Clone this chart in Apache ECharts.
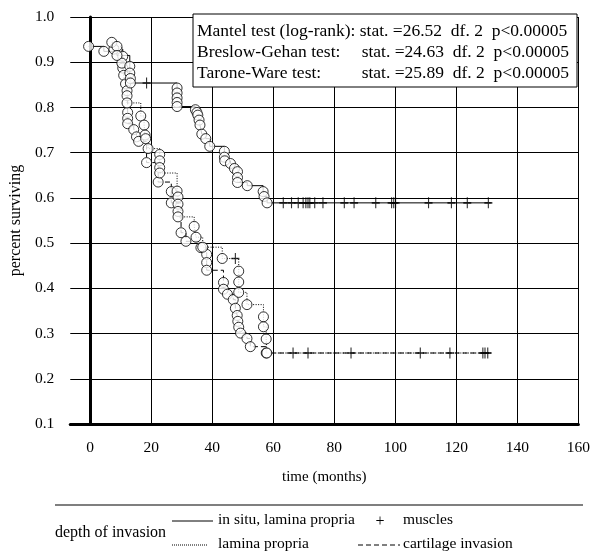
<!DOCTYPE html>
<html>
<head>
<meta charset="utf-8">
<script src="https://cdn.jsdelivr.net/npm/echarts@6/dist/echarts.min.js"></script>
<style>
  html, body { margin: 0; padding: 0; background: #fff; }
  #chart { width: 593px; height: 555px; }
</style>
</head>
<body>
<div id="chart"></div>
<script>
// x ticks (months)
const xTicks = [0, 20, 40, 60, 80, 100, 120, 140, 160]

// in situ, lamina propria (solid)
const timesA = [-0.5, 4.5, 8.8, 13.0, 13.0, 13.2, 13.2, 28.5, 28.5, 28.5, 28.5, 28.5, 34.5, 35.0, 35.3, 35.7, 36.0, 36.6, 37.9, 39.2, 44.0, 44.0, 44.1, 46.0, 47.3, 48.3, 48.3, 48.3, 51.5, 56.7, 57.0, 58.0]
const survA = [0.935, 0.924, 0.915, 0.891, 0.876, 0.864, 0.854, 0.843, 0.832, 0.821, 0.811, 0.802, 0.795, 0.789, 0.783, 0.772, 0.761, 0.741, 0.731, 0.714, 0.703, 0.690, 0.682, 0.676, 0.665, 0.658, 0.645, 0.634, 0.627, 0.614, 0.603, 0.589]
const censorA = [18.5, 63.3, 66.0, 68.2, 69.8, 70.7, 71.4, 72.0, 73.6, 76.3, 83.3, 86.5, 93.6, 98.8, 99.5, 100.1, 110.9, 118.4, 123.6, 130.5]
const endA = 131.3

// lamina propria (dotted)
const timesB = [7.1, 8.8, 10.4, 11.0, 11.6, 12.1, 12.1, 12.1, 16.6, 17.7, 18.0, 18.2, 19.0, 22.8, 22.8, 22.8, 22.8, 28.5, 28.8, 28.8, 28.8, 28.8, 34.1, 34.7, 36.9, 43.3, 48.7, 48.7, 48.7, 51.4, 56.8, 56.8, 57.7, 57.9]
const survB = [0.944, 0.935, 0.898, 0.871, 0.852, 0.837, 0.826, 0.810, 0.781, 0.761, 0.739, 0.731, 0.709, 0.696, 0.682, 0.667, 0.655, 0.615, 0.602, 0.586, 0.570, 0.558, 0.537, 0.513, 0.491, 0.466, 0.438, 0.414, 0.391, 0.364, 0.337, 0.315, 0.288, 0.257]
const censorB = [47.6, 66.5, 85.5, 117.9, 129.4]
const endB = 131.3

// cartilage invasion (dashed)
const timesC = [7.8, 10.7, 10.7, 12.3, 12.3, 12.3, 14.3, 15.2, 15.9, 18.5, 22.3, 26.6, 26.6, 29.8, 31.4, 36.3, 38.2, 38.2, 38.2, 43.7, 43.7, 45.0, 46.9, 47.6, 48.2, 48.4, 48.7, 49.3, 51.4, 52.5, 57.7]
const survC = [0.929, 0.913, 0.887, 0.789, 0.776, 0.764, 0.751, 0.735, 0.725, 0.678, 0.635, 0.614, 0.589, 0.523, 0.504, 0.490, 0.475, 0.457, 0.440, 0.413, 0.398, 0.387, 0.375, 0.356, 0.340, 0.327, 0.314, 0.301, 0.289, 0.271, 0.257]
const censorC = [71.4, 108.2, 128.7, 130.3]
const endC = 131.3

const statLabels = ['Mantel test (log-rank):', 'Breslow-Gehan test:', 'Tarone-Ware test:']
const statValues = ['26.52', '24.63', '25.89']
const statDf = ['2', '2', '2']
const statP = ['p<0.00005', 'p<0.00005', 'p<0.00005']

const FONT = 'Liberation Serif'
const PLUS = 'path://M4.3,0H5.7V10H4.3Z M0,4.3H10V5.7H0Z'

// survival level of a step curve at time t
function levelAt(times, surv, t) {
  let s = surv[0]
  for (let i = 0; i < times.length; i++) {
    if (times[i] <= t) s = surv[i]
  }
  return s
}

function curveSeries(times, surv, censor, end, lineType) {
  const events = times.map((t, i) => [t, surv[i]])
  const cens = censor.map((t) => [t, levelAt(times, surv, t)])
  const path = events.concat(cens, [[end, levelAt(times, surv, end)]])
    .sort((a, b) => a[0] - b[0])
  return [
    {
      type: 'line',
      step: 'end',
      data: path,
      symbol: 'none',
      silent: true,
      lineStyle: { color: '#000', width: 1, type: lineType },
      z: 3,
    },
    {
      type: 'scatter',
      data: events,
      symbol: 'circle',
      symbolSize: 10,
      silent: true,
      itemStyle: { color: '#fff', borderColor: '#000', borderWidth: 1 },
      z: 5,
    },
    {
      type: 'scatter',
      data: cens,
      symbol: PLUS,
      symbolSize: [8, 11],
      silent: true,
      itemStyle: { color: '#000' },
      z: 4,
    },
  ]
}

const chart = echarts.init(document.getElementById('chart'), null, { renderer: 'canvas' })

const textStyle = { fontFamily: FONT, fontSize: 15, color: '#000' }
const boxFont = `17.5px "${FONT}"`

const graphics = [
  {
    type: 'rect',
    z: 100,
    shape: { x: 193, y: 14, width: 384, height: 73 },
    style: { fill: '#fff', stroke: '#000', lineWidth: 1 },
  },
]
statLabels.forEach((lab, i) => {
  const y = 31 + i * 21
  const stat = `stat. =${statValues[i]}  df. ${statDf[i]}  ${statP[i]}`
  if (i === 0) {
    graphics.push({
      type: 'text', z: 101, x: 197, y,
      style: { text: `${lab} ${stat}`, font: boxFont, fill: '#000', textVerticalAlign: 'middle' },
    })
    return
  }
  graphics.push({
    type: 'text', z: 101, x: 197, y,
    style: { text: lab, font: boxFont, fill: '#000', textVerticalAlign: 'middle' },
  })
  graphics.push({
    type: 'text', z: 101, x: 569, y,
    style: { text: stat, font: boxFont, fill: '#000', textAlign: 'right', textVerticalAlign: 'middle' },
  })
})

// legend below the plot
const legendItems = [
  { type: 'line', shape: { x1: 55, y1: 505, x2: 583, y2: 505 }, style: { stroke: '#000', lineWidth: 1.2 } },
  { type: 'text', x: 55, y: 533, style: { text: 'depth of invasion', font: `16px "${FONT}"`, fill: '#000', textVerticalAlign: 'middle' } },
  { type: 'line', shape: { x1: 172, y1: 521, x2: 213, y2: 521 }, style: { stroke: '#000', lineWidth: 1 } },
  { type: 'text', x: 218, y: 520, style: { text: 'in situ, lamina propria', font: `15.5px "${FONT}"`, fill: '#000', textVerticalAlign: 'middle' } },
  { type: 'text', x: 380, y: 522, style: { text: '+', font: `16px "${FONT}"`, fill: '#000', textAlign: 'center', textVerticalAlign: 'middle' } },
  { type: 'text', x: 403, y: 520, style: { text: 'muscles', font: `15.5px "${FONT}"`, fill: '#000', textVerticalAlign: 'middle' } },
  { type: 'line', shape: { x1: 172, y1: 545, x2: 208, y2: 545 }, style: { stroke: '#000', lineWidth: 1, lineDash: [1, 1] } },
  { type: 'text', x: 218, y: 544, style: { text: 'lamina propria', font: `15.5px "${FONT}"`, fill: '#000', textVerticalAlign: 'middle' } },
  { type: 'line', shape: { x1: 358, y1: 545, x2: 400, y2: 545 }, style: { stroke: '#000', lineWidth: 1, lineDash: [5, 3] } },
  { type: 'text', x: 403, y: 544, style: { text: 'cartilage invasion', font: `15.5px "${FONT}"`, fill: '#000', textVerticalAlign: 'middle' } },
]

chart.setOption({
  backgroundColor: '#fff',
  animation: false,
  textStyle: { fontFamily: FONT },
  grid: { left: 68, right: 10, top: 17, bottom: 131, containLabel: false },
  xAxis: {
    type: 'value',
    min: -6.5,
    max: 160,
    name: 'time (months)',
    nameLocation: 'middle',
    nameGap: 46,
    nameTextStyle: textStyle,
    axisLine: { show: true, onZero: false, lineStyle: { color: '#000', width: 3 } },
    axisTick: { show: false, customValues: xTicks },
    axisLabel: { ...textStyle, fontSize: 15.5, margin: 16, customValues: xTicks },
    splitLine: { show: true, lineStyle: { color: '#000', width: 1 } },
  },
  yAxis: {
    type: 'value',
    min: 0.1,
    max: 1.0,
    interval: 0.1,
    name: 'percent surviving',
    nameLocation: 'middle',
    nameGap: 45,
    nameTextStyle: { ...textStyle, fontSize: 16 },
    axisLine: { show: true, lineStyle: { color: '#000', width: 3 } },
    axisTick: { show: false },
    axisLabel: { ...textStyle, fontSize: 15.5, margin: 16, formatter: (v) => v.toFixed(1) },
    splitLine: { show: true, lineStyle: { color: '#000', width: 1 } },
  },
  series: [
    ...curveSeries(timesC, survC, censorC, endC, [5, 3]),
    ...curveSeries(timesB, survB, censorB, endB, [1, 1.5]),
    ...curveSeries(timesA, survA, censorA, endA, 'solid'),
  ],
  graphic: graphics.concat(legendItems),
})
</script>
</body>
</html>
